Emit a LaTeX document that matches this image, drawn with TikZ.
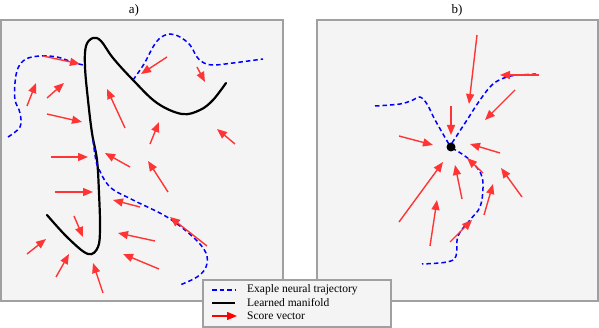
\documentclass[tikz,border=0pt]{standalone}
\usepackage{fontspec}
\setmainfont{Liberation Serif}
\usetikzlibrary{arrows.meta}
\definecolor{scorered}{HTML}{FF3535}
\definecolor{panelfill}{HTML}{F4F4F4}
\definecolor{panelline}{HTML}{A0A0A0}
\begin{document}
\begin{tikzpicture}[x=1pt,y=-1pt,
  panel/.style={draw=panelline, fill=panelfill, line width=1.2pt},
  manifold/.style={black, line width=2.2pt, line cap=round},
  traj/.style={blue, line width=1.5pt, dash pattern=on 4.5pt off 3pt},
  score/.style={scorered, line width=1.4pt, -{Triangle[length=10pt,width=8pt]}},
  lbl/.style={font=\fontsize{13}{15}\selectfont, inner sep=0pt},
  legtext/.style={font=\fontsize{11.5}{13}\selectfont, anchor=west, inner sep=0pt}]
\useasboundingbox (0,0) rectangle (599,328);

% panels
\draw[panel] (1,20) rectangle (283,301);
\draw[panel] (317,20) rectangle (598,301);
\node[lbl] (la) at (134,10) {a)};
\node[lbl] (lb) at (457,10) {b)};

% ---------- panel a ----------
\draw[manifold] plot[smooth, tension=0.6] coordinates {
  (47,215) (68,238) (88,254) (98,247) (100,227) (99,193) (97,160)
  (92,133) (88,100) (85,67) (86,46) (93,38) (101,41) (113,58) (133,80)
  (157,103) (182,114) (200,110) (213,100) (226,83)};

\draw[traj] plot[smooth, tension=0.6] coordinates {
  (8,137) (20,127) (20,113) (15,100) (15,83) (18,68) (26,59) (40,56)
  (57,57) (72,62) (83,65)};
\draw[traj] plot[smooth, tension=0.6] coordinates {
  (93,140) (95,155) (98,167) (110,187) (133,200) (167,217) (193,237)
  (206,253) (206,267) (197,277) (180,285)};
\draw[traj] plot[smooth, tension=0.6] coordinates {
  (133,80) (144,64) (153,47) (160,38) (170,34) (180,37) (190,45)
  (197,57) (204,63) (214,65) (233,63) (263,59)};

\foreach \xa/\ya/\xb/\yb in {
  43/56/80/64, 27/106/36/83, 47/98/64/83, 47/114/82/122,
  125/128/107/89, 167/57/141/74, 197/67/205/82, 150/144/159/122,
  235/144/217/129, 51/157/88/157, 130/167/105/153, 168/192/148/161,
  55/192/93/192, 140/207/113/200, 207/246/170/217, 74/216/83/237,
  155/241/118/233, 27/254/46/239, 56/277/69/254, 159/269/123/254,
  103/293/93/263}
  \draw[score] (\xa,\ya) -- (\xb,\yb);

% ---------- panel b ----------
\draw[traj] plot[smooth, tension=0.6] coordinates {
  (375,106) (400,104) (413,100) (420,97) (427,104) (434,118) (443,134) (450,146)};
\draw[traj] plot[smooth, tension=0.6] coordinates {
  (452,143) (467,120) (480,100) (493,84) (507,77) (520,75) (539,74)};
\draw[traj] plot[smooth, tension=0.6] coordinates {
  (452,148) (462,154) (472,162) (481,174) (483,188) (480,207) (470,220)
  (458,236) (456,256) (447,262) (422,264)};

\node[circle, fill=black, inner sep=0pt, minimum size=9pt] (dot) at (451,147) {};

\foreach \xa/\ya/\xb/\yb in {
  477/35/469/104, 539/75/500/75, 515/90/485/120, 451/106/451/135,
  399/136/433/145, 500/153/470/144, 399/222/443/162, 462/199/455/165,
  483/173/467/158, 522/197/501/168, 430/246/437/200, 484/215/493/184,
  450/242/472/220}
  \draw[score] (\xa,\ya) -- (\xb,\yb);

% ---------- legend ----------
\draw[panel] (203,280) rectangle (391,327);
\coordinate (l1a) at (212,290); \coordinate (l1b) at (235,290);
\coordinate (l2a) at (212,303); \coordinate (l2b) at (235,303);
\coordinate (l3a) at (212,316); \coordinate (l3b) at (237,316);
\draw[traj] (l1a) -- (l1b);
\draw[black, line width=1.5pt] (l2a) -- (l2b);
\draw[red, line width=1.4pt, -{Triangle[length=10pt,width=8pt]}] (l3a) -- (l3b);
\node[legtext] (t1) at (247,290) {Exaple neural trajectory};
\node[legtext] (t2) at (247,303) {Learned manifold};
\node[legtext] (t3) at (247,316) {Score vector};
\end{tikzpicture}
\end{document}
